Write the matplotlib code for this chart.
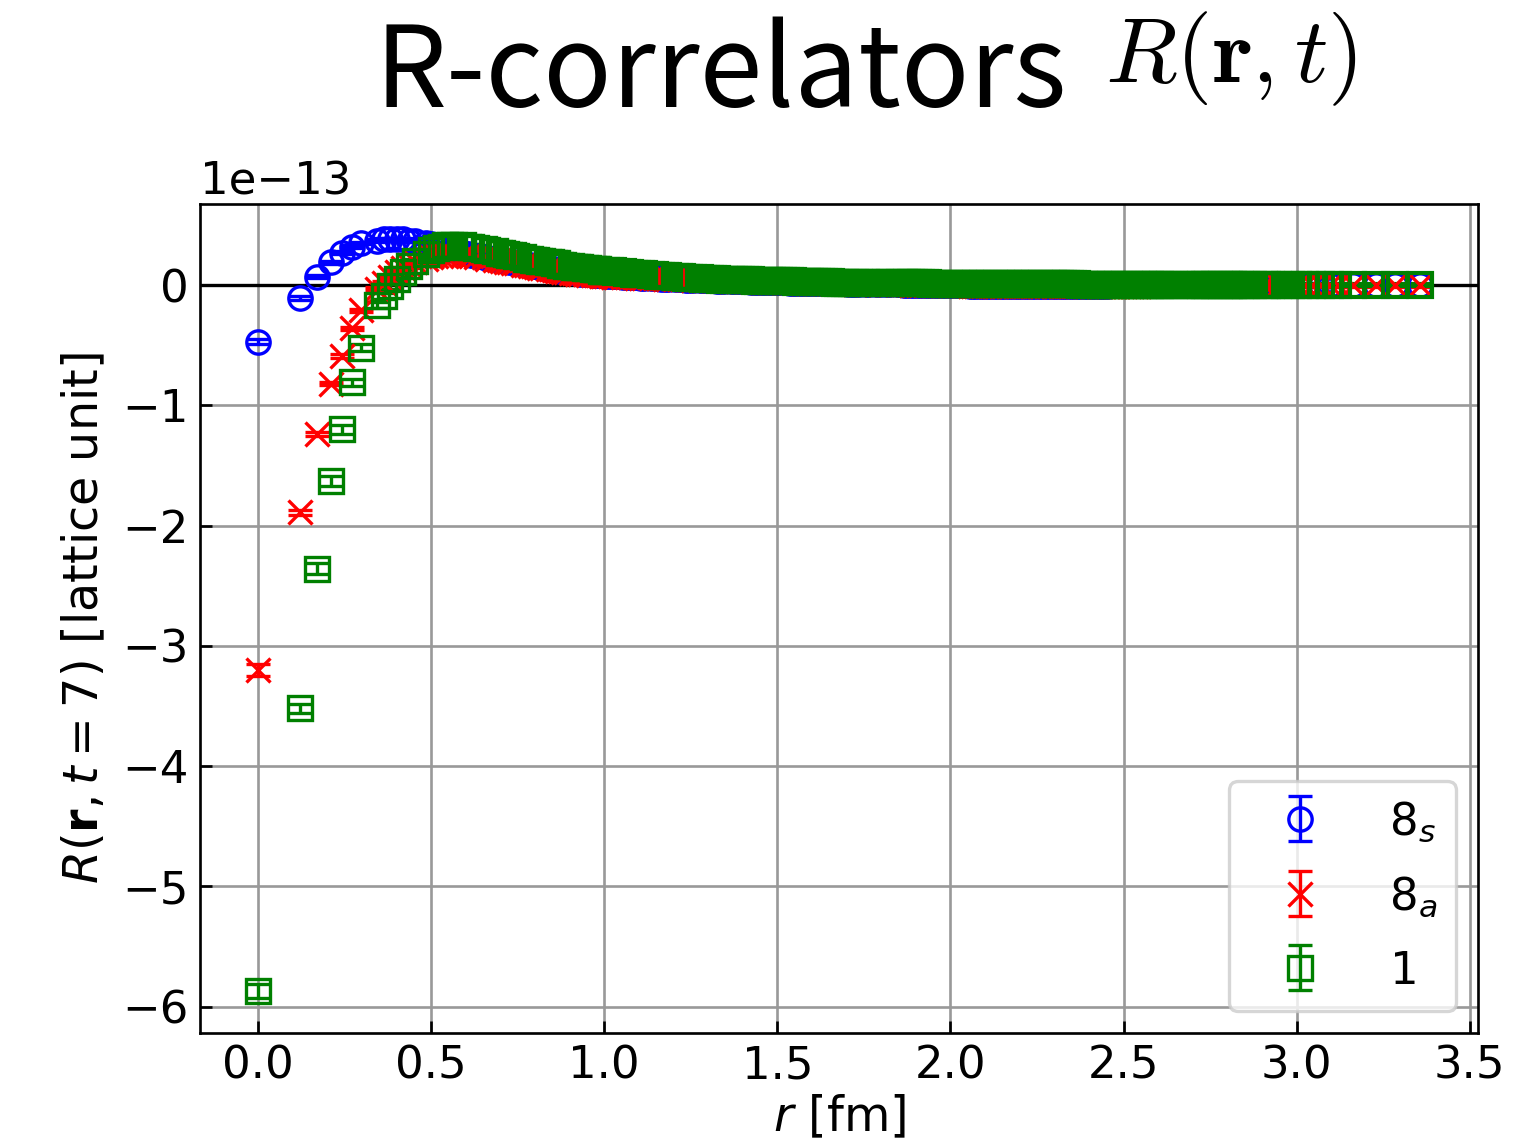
import numpy as np
import matplotlib
matplotlib.use("Agg")
import matplotlib.pyplot as plt

plt.rcParams["font.size"] = 13.5

# ---- separations r [fm], short distance (every lattice site class) ----
r_near = [0.000, 0.121, 0.171, 0.209, 0.242, 0.270, 0.296, 0.342, 0.363, 0.382,
          0.401, 0.419, 0.436, 0.452, 0.484, 0.498, 0.513, 0.527, 0.541, 0.554,
          0.567, 0.592, 0.605, 0.616, 0.628, 0.651, 0.662, 0.684, 0.695, 0.705,
          0.715, 0.725, 0.735, 0.745, 0.765, 0.774, 0.784, 0.793, 0.802, 0.811,
          0.820, 0.838, 0.846, 0.855, 0.863, 0.872, 0.880, 0.888, 0.905, 0.913,
          0.921, 0.929, 0.944, 0.952, 0.967, 0.975, 0.982, 0.990, 0.997]

# R(r, t=7) in units of 1e-13, short distance
s8_near = [-0.47, -0.11, 0.07, 0.19, 0.27, 0.32, 0.35, 0.37, 0.38, 0.38,
           0.38, 0.38, 0.37, 0.37, 0.35, 0.34, 0.33, 0.32, 0.31, 0.30,
           0.29, 0.27, 0.26, 0.25, 0.245, 0.235, 0.225, 0.215, 0.21, 0.205,
           0.20, 0.195, 0.19, 0.185, 0.175, 0.17, 0.165, 0.16, 0.155, 0.15,
           0.145, 0.135, 0.135, 0.13, 0.125, 0.12, 0.115, 0.115, 0.105, 0.105,
           0.10, 0.095, 0.095, 0.09, 0.085, 0.085, 0.085, 0.08, 0.08]
a8_near = [-3.20, -1.89, -1.24, -0.82, -0.59, -0.36, -0.21, -0.03, 0.02, 0.07,
           0.11, 0.14, 0.17, 0.19, 0.22, 0.23, 0.24, 0.245, 0.25, 0.25,
           0.25, 0.25, 0.245, 0.24, 0.235, 0.23, 0.22, 0.21, 0.205, 0.20,
           0.195, 0.19, 0.185, 0.18, 0.17, 0.165, 0.16, 0.155, 0.15, 0.145,
           0.14, 0.13, 0.13, 0.125, 0.12, 0.115, 0.11, 0.11, 0.10, 0.10,
           0.095, 0.09, 0.09, 0.085, 0.08, 0.08, 0.08, 0.075, 0.075]
s1_near = [-5.87, -3.52, -2.36, -1.63, -1.20, -0.81, -0.52, -0.17, -0.09, -0.01,
           0.05, 0.11, 0.16, 0.20, 0.26, 0.29, 0.31, 0.32, 0.33, 0.33,
           0.33, 0.33, 0.32, 0.32, 0.31, 0.30, 0.29, 0.28, 0.27, 0.27,
           0.26, 0.25, 0.25, 0.24, 0.23, 0.22, 0.22, 0.21, 0.21, 0.20,
           0.20, 0.19, 0.19, 0.18, 0.18, 0.17, 0.17, 0.16, 0.16, 0.15,
           0.15, 0.15, 0.14, 0.14, 0.13, 0.13, 0.13, 0.12, 0.12]

s8_err_near = [0.02, 0.015, 0.012, 0.012, 0.01, 0.01, 0.01, 0.01, 0.01, 0.01,
               0.01, 0.01, 0.01, 0.01, 0.01, 0.01, 0.01, 0.01, 0.01, 0.01,
               0.01, 0.01, 0.01, 0.01, 0.01, 0.01, 0.01, 0.01, 0.01, 0.01,
               0.01, 0.01, 0.01, 0.01, 0.01, 0.01, 0.01, 0.01, 0.01, 0.01,
               0.01, 0.01, 0.01, 0.01, 0.01, 0.01, 0.01, 0.01, 0.01, 0.01,
               0.01, 0.01, 0.01, 0.01, 0.01, 0.01, 0.01, 0.01, 0.01]
a8_err_near = [0.05, 0.02, 0.015, 0.015, 0.015, 0.012, 0.012, 0.012, 0.012, 0.012,
               0.012, 0.012, 0.012, 0.012, 0.012, 0.012, 0.012, 0.012, 0.012, 0.012,
               0.012, 0.012, 0.012, 0.012, 0.012, 0.012, 0.012, 0.012, 0.012, 0.012,
               0.012, 0.012, 0.012, 0.012, 0.012, 0.012, 0.012, 0.012, 0.012, 0.012,
               0.012, 0.012, 0.012, 0.012, 0.012, 0.012, 0.012, 0.012, 0.012, 0.012,
               0.012, 0.012, 0.012, 0.012, 0.012, 0.012, 0.012, 0.012, 0.012]
s1_err_near = [0.055, 0.035, 0.045, 0.04, 0.035, 0.03, 0.03, 0.025, 0.025, 0.025,
               0.02, 0.02, 0.02, 0.02, 0.02, 0.02, 0.02, 0.02, 0.02, 0.02,
               0.02, 0.02, 0.02, 0.02, 0.02, 0.02, 0.02, 0.02, 0.02, 0.02,
               0.02, 0.02, 0.02, 0.02, 0.02, 0.02, 0.02, 0.02, 0.02, 0.02,
               0.02, 0.02, 0.02, 0.02, 0.02, 0.02, 0.02, 0.02, 0.02, 0.02,
               0.02, 0.02, 0.02, 0.02, 0.02, 0.02, 0.02, 0.02, 0.02]

# ---- long distance r [fm] ----
r_far = [1.005, 1.015, 1.025, 1.035, 1.055, 1.065, 1.075, 1.085, 1.095,
         1.105, 1.115, 1.135, 1.145, 1.155, 1.165, 1.175, 1.185,
         1.205, 1.215, 1.225, 1.235, 1.245, 1.255, 1.275, 1.285, 1.295,
         1.305, 1.315, 1.325, 1.335, 1.345, 1.365, 1.375, 1.385, 1.395,
         1.405, 1.415, 1.425, 1.435, 1.445, 1.455, 1.465, 1.475, 1.485, 1.495,
         1.505, 1.515, 1.525, 1.535, 1.545, 1.555, 1.565, 1.575, 1.585, 1.595,
         1.605, 1.615, 1.625, 1.635, 1.645, 1.655, 1.665, 1.675, 1.685, 1.695,
         1.705, 1.715, 1.725, 1.735, 1.755, 1.765, 1.785, 1.795,
         1.815, 1.825, 1.845, 1.855, 1.865, 1.875, 1.885, 1.895,
         1.905, 1.915, 1.925, 1.935, 1.945, 1.955, 1.965, 1.975, 1.985, 1.995,
         2.005, 2.015, 2.025, 2.035, 2.045, 2.055, 2.065, 2.075, 2.085, 2.095,
         2.105, 2.115, 2.125, 2.135, 2.145, 2.155, 2.165, 2.175, 2.185, 2.195,
         2.205, 2.215, 2.225, 2.235, 2.245, 2.255, 2.265, 2.275, 2.285, 2.295,
         2.305, 2.315, 2.325, 2.335, 2.345, 2.355, 2.365, 2.375, 2.385, 2.395,
         2.405, 2.415, 2.425, 2.435, 2.445, 2.455, 2.465, 2.475, 2.485, 2.495,
         2.505, 2.515, 2.525, 2.535, 2.545, 2.555, 2.565, 2.575, 2.585, 2.595,
         2.605, 2.615, 2.625, 2.635, 2.645, 2.665, 2.675, 2.695,
         2.705, 2.715, 2.725, 2.735, 2.745, 2.755, 2.765, 2.775, 2.785, 2.795,
         2.805, 2.815, 2.825, 2.835, 2.845, 2.855, 2.865, 2.875,
         2.905, 2.915, 2.925, 2.945, 2.965, 2.985, 3.005, 3.025,
         3.045, 3.070, 3.095, 3.120, 3.164, 3.228, 3.285, 3.356]

s8_far = [0.078, 0.076, 0.074, 0.072, 0.069, 0.067, 0.066, 0.064, 0.063,
          0.061, 0.060, 0.058, 0.056, 0.055, 0.054, 0.053, 0.052,
          0.050, 0.049, 0.047, 0.046, 0.045, 0.044, 0.042, 0.041, 0.040,
          0.039, 0.038, 0.037, 0.036, 0.035, 0.034, 0.033, 0.032, 0.031,
          0.031, 0.030, 0.029, 0.028, 0.028, 0.027, 0.026, 0.025, 0.025, 0.024,
          0.023, 0.023, 0.022, 0.021, 0.021, 0.020, 0.019, 0.019, 0.018, 0.018,
          0.017, 0.017, 0.016, 0.016, 0.015, 0.015, 0.014, 0.014, 0.013, 0.013,
          0.012, 0.012, 0.011, 0.011, 0.010, 0.009, 0.008, 0.008,
          0.007, 0.006, 0.005, 0.005, 0.004, 0.004, 0.003, 0.003,
          0.002, 0.002, 0.001, 0.001, 0.000, 0.000, -0.001, -0.001, -0.002, -0.002,
          -0.003, -0.003, -0.003, -0.003, -0.003, -0.004, -0.004, -0.004, -0.004, -0.004,
          -0.004, -0.004, -0.004, -0.004, -0.004, -0.004, -0.004, -0.004, -0.004, -0.004,
          -0.004, -0.004, -0.004, -0.004, -0.004, -0.004, -0.004, -0.004, -0.004, -0.004,
          -0.004, -0.004, -0.004, -0.004, -0.004, -0.004, -0.004, -0.004, -0.004, -0.004,
          -0.004, -0.004, -0.004, -0.004, -0.004, -0.004, -0.003, -0.003, -0.003, -0.003,
          -0.003, -0.003, -0.003, -0.003, -0.003, -0.003, -0.003, -0.003, -0.003, -0.003,
          -0.003, -0.003, -0.003, -0.003, -0.003, -0.003, -0.003, -0.003,
          -0.003, -0.003, -0.003, -0.003, -0.003, -0.003, -0.003, -0.003, -0.003, -0.003,
          -0.003, -0.003, -0.002, -0.002, -0.002, -0.002, -0.002, -0.002,
          -0.002, -0.002, -0.002, -0.002, -0.002, -0.002, -0.001, -0.001,
          -0.001, -0.001, -0.001, -0.001, -0.001, -0.001, -0.001, -0.001]

a8_far = [0.074, 0.072, 0.071, 0.069, 0.067, 0.066, 0.065, 0.063, 0.062,
          0.061, 0.060, 0.058, 0.057, 0.056, 0.055, 0.054, 0.053,
          0.051, 0.050, 0.049, 0.048, 0.047, 0.046, 0.044, 0.043, 0.042,
          0.041, 0.040, 0.039, 0.039, 0.038, 0.036, 0.035, 0.035, 0.034,
          0.033, 0.032, 0.032, 0.031, 0.030, 0.029, 0.029, 0.028, 0.027, 0.026,
          0.026, 0.025, 0.024, 0.024, 0.023, 0.022, 0.022, 0.021, 0.020, 0.020,
          0.019, 0.019, 0.018, 0.017, 0.017, 0.016, 0.016, 0.015, 0.014, 0.014,
          0.013, 0.013, 0.012, 0.012, 0.011, 0.010, 0.009, 0.009,
          0.008, 0.007, 0.006, 0.006, 0.005, 0.005, 0.004, 0.004,
          0.003, 0.003, 0.002, 0.002, 0.001, 0.001, 0.000, 0.000, -0.001, -0.001,
          -0.002, -0.002, -0.003, -0.003, -0.003, -0.004, -0.004, -0.004, -0.004, -0.004,
          -0.004, -0.004, -0.004, -0.004, -0.004, -0.004, -0.004, -0.004, -0.004, -0.004,
          -0.004, -0.004, -0.004, -0.004, -0.004, -0.004, -0.004, -0.004, -0.004, -0.004,
          -0.004, -0.004, -0.004, -0.004, -0.004, -0.004, -0.004, -0.004, -0.004, -0.004,
          -0.004, -0.004, -0.004, -0.004, -0.004, -0.004, -0.004, -0.004, -0.004, -0.004,
          -0.004, -0.004, -0.004, -0.004, -0.004, -0.003, -0.003, -0.003, -0.003, -0.003,
          -0.003, -0.003, -0.003, -0.003, -0.003, -0.003, -0.003, -0.003,
          -0.003, -0.003, -0.003, -0.003, -0.003, -0.003, -0.003, -0.003, -0.003, -0.003,
          -0.003, -0.003, -0.003, -0.003, -0.002, -0.002, -0.002, -0.002,
          -0.002, -0.002, -0.002, -0.002, -0.002, -0.002, -0.002, -0.002,
          -0.002, -0.002, -0.001, -0.001, -0.001, -0.001, -0.001, -0.001]

s1_far = [0.120, 0.118, 0.115, 0.111, 0.105, 0.102, 0.099, 0.096, 0.094,
          0.091, 0.089, 0.084, 0.081, 0.079, 0.076, 0.074, 0.072,
          0.069, 0.067, 0.065, 0.062, 0.060, 0.058, 0.055, 0.053, 0.051,
          0.050, 0.048, 0.047, 0.046, 0.045, 0.043, 0.042, 0.041, 0.040,
          0.040, 0.039, 0.038, 0.037, 0.036, 0.035, 0.034, 0.033, 0.033, 0.032,
          0.032, 0.031, 0.031, 0.030, 0.030, 0.029, 0.029, 0.028, 0.028, 0.027,
          0.027, 0.026, 0.026, 0.025, 0.024, 0.022, 0.021, 0.020, 0.020, 0.019,
          0.019, 0.018, 0.018, 0.018, 0.017, 0.017, 0.016, 0.016,
          0.016, 0.015, 0.015, 0.015, 0.014, 0.014, 0.014, 0.014,
          0.013, 0.013, 0.013, 0.013, 0.012, 0.012, 0.012, 0.012, 0.012, 0.012,
          0.011, 0.011, 0.011, 0.011, 0.010, 0.010, 0.010, 0.010, 0.010, 0.009,
          0.009, 0.009, 0.009, 0.009, 0.008, 0.008, 0.008, 0.008, 0.008, 0.008,
          0.007, 0.007, 0.007, 0.007, 0.007, 0.006, 0.006, 0.006, 0.006, 0.006,
          0.005, 0.005, 0.005, 0.005, 0.005, 0.005, 0.005, 0.004, 0.004, 0.004,
          0.004, 0.004, 0.004, 0.004, 0.004, 0.004, 0.004, 0.004, 0.004, 0.004,
          0.004, 0.004, 0.003, 0.003, 0.003, 0.003, 0.003, 0.003, 0.003, 0.003,
          0.003, 0.003, 0.003, 0.002, 0.002, 0.002, 0.002, 0.002,
          0.002, 0.002, 0.002, 0.002, 0.002, 0.002, 0.002, 0.002, 0.002, 0.002,
          0.002, 0.002, 0.002, 0.002, 0.002, 0.002, 0.001, 0.001,
          0.001, 0.001, 0.001, 0.001, 0.001, 0.001, 0.001, 0.001,
          0.001, 0.001, 0.000, 0.000, 0.000, 0.000, 0.000, 0.000]

s8_err_far = 0.01
a8_err_far = 0.012
s1_err_far = 0.01

legend_labels = [r"$8_s$", r"$8_a$", r"$1$"]

unit = 1e-13

W, H = 1536, 1146
fig = plt.figure(figsize=(W / 240, H / 240), dpi=240)
ax = fig.add_axes([200 / W, 1 - 1033 / H, (1478 - 200) / W, (1033 - 204) / H])

ax.axhline(0.0, color="k", lw=1.0)

styles = [
    (s8_near, s8_err_near, s8_far, s8_err_far, "o", "b"),
    (a8_near, a8_err_near, a8_far, a8_err_far, "x", "r"),
    (s1_near, s1_err_near, s1_far, s1_err_far, "s", "g"),
]
handles = []
for (yn, en, yf, ef, mk, col), lab in zip(styles, legend_labels):
    kw = dict(fmt=mk, color=col, mfc="none", mec=col, ms=7,
              elinewidth=1.0, capsize=3.5, capthick=1.0)
    h = ax.errorbar(r_near, np.array(yn) * unit, yerr=np.array(en) * unit,
                    label=lab, mew=1.0, **kw)
    # the dense long-distance squares merge into one band
    ax.errorbar(r_far, np.array(yf) * unit, yerr=ef * unit,
                mew=1.25 if mk == "s" else 1.0, **kw)
    handles.append(h)

ax.set_xlim(-0.168, 3.524)
ax.set_ylim(-6.22 * unit, 0.674 * unit)
ax.grid(True, color="#999999", lw=0.8)
ax.tick_params(direction="in")
ax.set_xlabel(r"$r$ [fm]", fontsize=14.3, labelpad=2)
ax.set_ylabel(r"$R(\mathbf{r},t=7)$ [lattice unit]", fontsize=14.3)
ax.legend(handles=handles, labels=legend_labels, loc="lower right",
          handlelength=2.35, labelspacing=0.68)

fig.text(375 / W, 1 - 107 / H, "R-correlators", fontsize=34,
         family=["Noto Sans CJK JP", "DejaVu Sans"], ha="left", va="baseline")
fig.text(1105 / W, 1 - 82 / H, r"$R(\mathbf{r},t)$", fontsize=28,
         math_fontfamily="cm", ha="left", va="baseline")

fig.savefig("out.png", dpi=240)
